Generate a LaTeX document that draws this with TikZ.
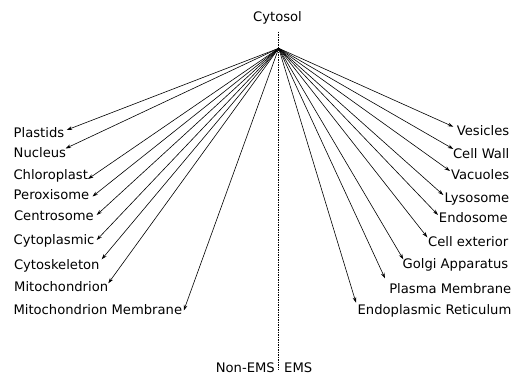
\documentclass[tikz,border=0pt]{standalone}
\usepackage{fontspec}
\setmainfont{DejaVu Sans}
\usetikzlibrary{arrows.meta}
\tikzset{
  lbl/.style={inner sep=0pt, font=\fontsize{13.15}{15}\selectfont},
  lft/.style={lbl, anchor=base west},
  rgt/.style={lbl, anchor=base east},
  arr/.style={-{Stealth[length=5.5pt,width=3.6pt]}, line width=0.6pt, black},
  divider/.style={line width=0.9pt, dash pattern=on 1.5pt off 1pt}
}
\begin{document}
\begin{tikzpicture}[x=1pt,y=-1pt]
\useasboundingbox (0,0) rectangle (515,377);
% title and divider
\node[lbl, anchor=base] (cyto) at (277.5,21.7) {Cytosol};
\coordinate (dtop) at (278.7,31.7);
\coordinate (dbot) at (278.7,370);
\coordinate (src) at (278.7,48.3);
\draw[divider] (dtop) -- (dbot);
\node[rgt] (nonems) at (275,373) {Non-EMS};
\node[lft] (ems) at (284,373) {EMS};
% left labels
\node[lft] (plastids) at (13.5,137.7) {Plastids};
\node[lft] (nucleus) at (13.5,157.7) {Nucleus};
\node[lft] (chloro) at (13.3,180) {Chloroplast};
\node[lft] (perox) at (13.5,200) {Peroxisome};
\node[lft] (centro) at (13.8,221) {Centrosome};
\node[lft] (cytopl) at (13.5,245) {Cytoplasmic};
\node[lft] (cytosk) at (13.8,269.3) {Cytoskeleton};
\node[lft] (mito) at (14,291.7) {Mitochondrion};
\node[lft] (mitomem) at (13.3,315) {Mitochondrion Membrane};
% right labels
\node[rgt] (vesicles) at (509.5,135.7) {Vesicles};
\node[rgt] (cellwall) at (509.5,158.3) {Cell Wall};
\node[rgt] (vacuoles) at (509.5,180) {Vacuoles};
\node[rgt] (lysosome) at (509.5,202.3) {Lysosome};
\node[rgt] (endosome) at (508,223) {Endosome};
\node[rgt] (cellext) at (508.5,246.7) {Cell exterior};
\node[rgt] (golgi) at (508.5,268.3) {Golgi Apparatus};
\node[rgt] (plasma) at (511.5,293.3) {Plasma Membrane};
\node[rgt] (er) at (511.5,315) {Endoplasmic Reticulum};
% arrow tips
\coordinate (tplastids) at (66.7,130);
\coordinate (tnucleus) at (65.5,148.5);
\coordinate (tchloro) at (88,179);
\coordinate (tperox) at (92.5,196.5);
\coordinate (tcentro) at (96.7,215);
\coordinate (tcytopl) at (96.7,240);
\coordinate (tcytosk) at (101.7,259.3);
\coordinate (tmito) at (108.3,283.3);
\coordinate (tmitomem) at (183.8,310.5);
\coordinate (tvesicles) at (453.3,126.7);
\coordinate (tcellwall) at (453.3,149);
\coordinate (tvacuoles) at (450,171);
\coordinate (tlysosome) at (443.3,195);
\coordinate (tendosome) at (438,215);
\coordinate (tcellext) at (427.3,237.3);
\coordinate (tgolgi) at (403.3,259.3);
\coordinate (tplasma) at (385,278.3);
\coordinate (ter) at (356,302.7);
\foreach \t in {plastids,nucleus,chloro,perox,centro,cytopl,cytosk,mito,mitomem,
  vesicles,cellwall,vacuoles,lysosome,endosome,cellext,golgi,plasma,er}
  \draw[arr] (src) -- (t\t);
\end{tikzpicture}
\end{document}
